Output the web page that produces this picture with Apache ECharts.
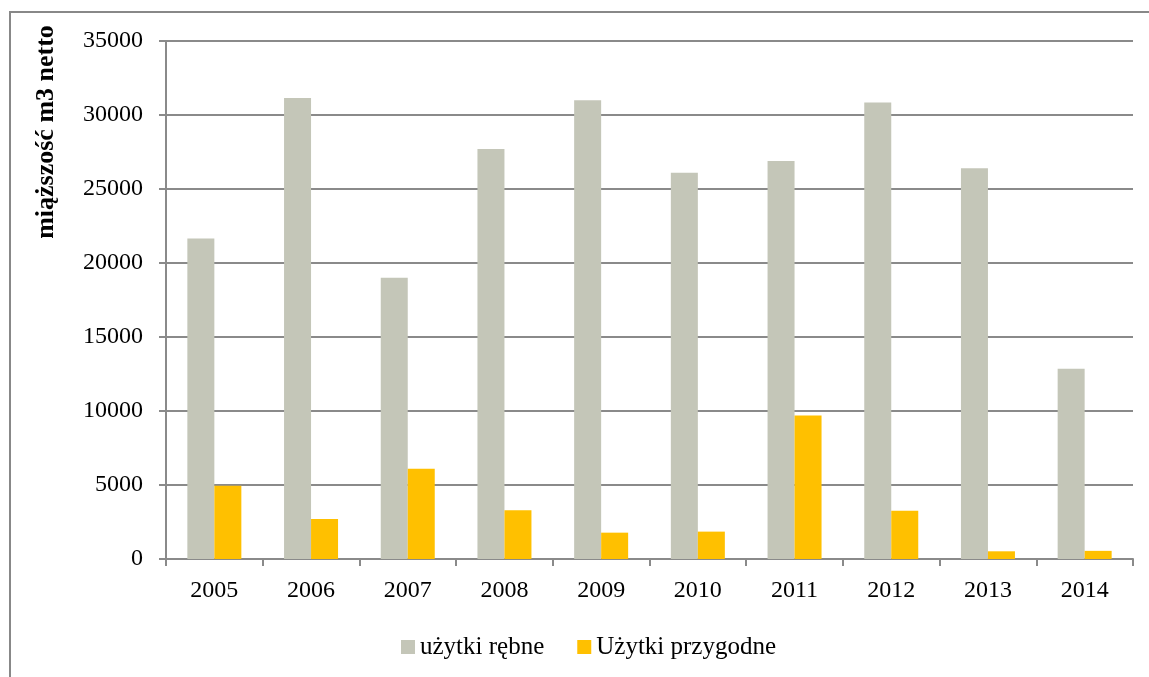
<!DOCTYPE html>
<html>
<head>
<meta charset="utf-8">
<script src="https://cdn.jsdelivr.net/npm/echarts@6/dist/echarts.min.js"></script>
<style>
  html, body { margin: 0; padding: 0; background: #fff; }
  #chart { width: 1149px; height: 677px; }
</style>
</head>
<body>
<div id="chart"></div>
<script>
// Years on the category axis
const years = ['2005', '2006', '2007', '2008', '2009', '2010', '2011', '2012', '2013', '2014'];
// Harvest volume, m3 net
const uzytkiRebne = [21650, 31150, 19000, 27700, 31000, 26100, 26900, 30850, 26400, 12850];
const uzytkiPrzygodne = [4950, 2700, 6100, 3300, 1780, 1850, 9700, 3260, 520, 550];
const seriesNames = ['użytki rębne', 'Użytki przygodne'];
const yTitle = 'miąższość m3 netto';

const FONT = '"Liberation Serif", "Times New Roman", serif';
const GRID_GRAY = '#8a8a8a';

const chart = echarts.init(document.getElementById('chart'), null, { renderer: 'canvas' });

chart.setOption({
  backgroundColor: '#ffffff',
  animation: false,
  textStyle: { fontFamily: FONT, color: '#000' },
  grid: { left: 166, right: 16, top: 41, bottom: 118, containLabel: false },
  legend: {
    data: seriesNames,
    top: 628,
    left: 396,
    itemWidth: 14,
    itemHeight: 14,
    itemGap: 33,
    icon: 'rect',
    textStyle: { fontFamily: FONT, fontSize: 25, lineHeight: 28, color: '#000' }
  },
  xAxis: {
    type: 'category',
    data: years,
    axisLine: { lineStyle: { color: GRID_GRAY, width: 2 } },
    axisTick: { show: true, length: 7, lineStyle: { color: GRID_GRAY, width: 2 } },
    axisLabel: { fontFamily: FONT, fontSize: 24, color: '#000', margin: 20 }
  },
  yAxis: {
    type: 'value',
    min: 0,
    max: 35000,
    interval: 5000,
    axisLine: { show: true, lineStyle: { color: GRID_GRAY, width: 2 } },
    axisTick: { show: true, length: 7, lineStyle: { color: GRID_GRAY, width: 2 } },
    axisLabel: {
      fontFamily: FONT, fontSize: 24, color: '#000', margin: 23,
      formatter: (v) => String(v)
    },
    splitLine: { lineStyle: { color: GRID_GRAY, width: 2 } }
  },
  series: [
    {
      name: seriesNames[0],
      type: 'bar',
      data: uzytkiRebne,
      barWidth: 27,
      barGap: '0%',
      itemStyle: { color: '#c4c6b8' }
    },
    {
      name: seriesNames[1],
      type: 'bar',
      data: uzytkiPrzygodne,
      barWidth: 27,
      barGap: '0%',
      itemStyle: { color: '#ffc000' }
    }
  ],
  graphic: [
    {
      // chart-area frame
      type: 'rect',
      silent: true,
      shape: { x: 10, y: 12, width: 1160, height: 690 },
      style: { fill: 'none', stroke: '#888888', lineWidth: 2 },
      z: -1
    },
    {
      type: 'text',
      x: 46,
      y: 132,
      rotation: Math.PI / 2,
      style: {
        text: yTitle,
        font: 'bold 26px ' + FONT,
        fill: '#000',
        align: 'center',
        verticalAlign: 'middle'
      }
    }
  ]
});
</script>
</body>
</html>
